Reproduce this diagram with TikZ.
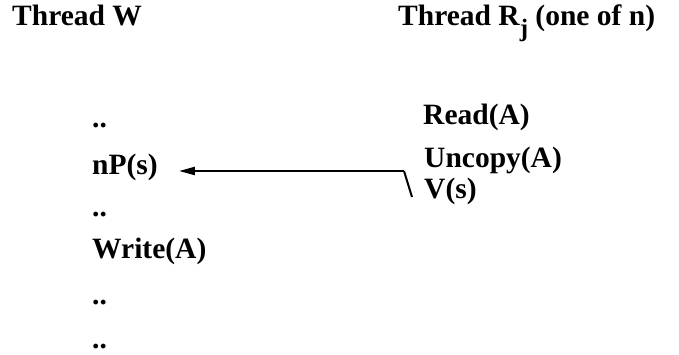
\documentclass[tikz,border=0pt]{standalone}
\usepackage{fontspec}
\setmainfont{Liberation Serif}
\usetikzlibrary{arrows.meta}
\begin{document}
\begin{tikzpicture}[x=1pt,y=-1pt,
  lbl/.style={anchor=base west,inner sep=0pt,font=\fontsize{29.5}{31}\selectfont\bfseries},
  arr/.style={line width=2.3pt,-{Triangle[length=16pt,width=8pt]}}]
\useasboundingbox (0,0) rectangle (679,355);
% column headings
\node[lbl] (tw) at (12,26) {Thread W};
\node[lbl] (tr) at (398,26) {Thread R\raisebox{-0.36em}{\fontsize{25}{25}\selectfont j} (one of n)};
% writer thread
\node[lbl] (w1) at (92,128) {..};
\node[lbl] (np) at (92,175) {nP(s)};
\node[lbl] (w2) at (92,216) {..};
\node[lbl] (wr) at (92,258) {Write(A)};
\node[lbl] (w3) at (92,304) {..};
\node[lbl] (w4) at (92,348) {..};
% reader thread
\node[lbl] (rd) at (423,125) {Read(A)};
\node[lbl] (un) at (424,168) {Uncopy(A)};
\node[lbl] (vs) at (424,199) {V(s)};
% signal from V(s) back to nP(s)
\coordinate (tail) at (412,197);
\coordinate (bend) at (404,171);
\draw[line width=2pt] (tail) -- (bend);
\draw[arr,shorten >=21pt] (bend) -- (bend -| np.east);
\end{tikzpicture}
\end{document}
